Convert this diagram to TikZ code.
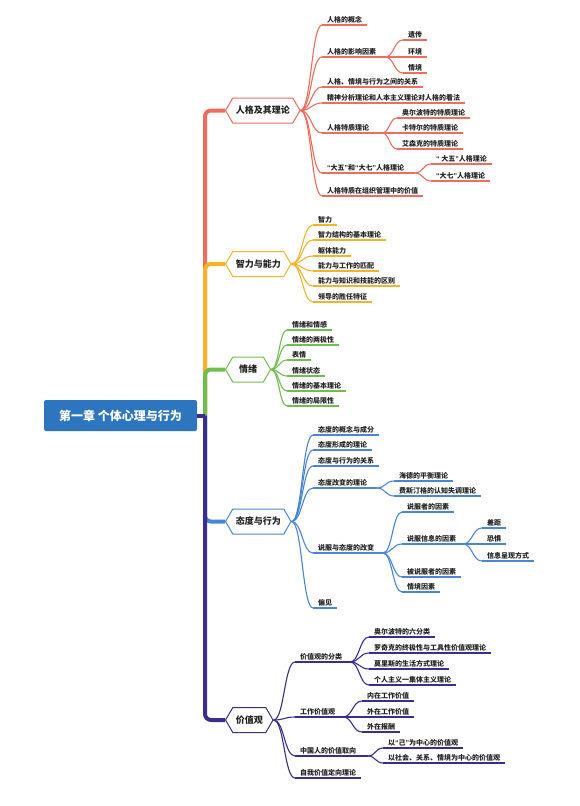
\documentclass[tikz,border=0pt]{standalone}
\usepackage{fontspec}
\newfontfamily\cjk{Noto Sans CJK SC}
\newfontfamily\latinq{Liberation Sans}
\newcommand{\oq}{{\latinq “}}
\newcommand{\cq}{{\latinq ”}}
\usetikzlibrary{calc,shapes.symbols}
\definecolor{mred}{RGB}{240,108,92}
\definecolor{morange}{RGB}{245,180,40}
\definecolor{mgreen}{RGB}{112,190,80}
\definecolor{mblue}{RGB}{74,134,216}
\definecolor{mpurple}{RGB}{58,46,140}
\definecolor{mroot}{RGB}{46,117,192}
\definecolor{mtext}{RGB}{34,34,34}
\tikzset{
  rootbox/.style={fill=mroot, rounded corners=2pt, minimum width=153pt, minimum height=31pt,
                  text=white, font=\cjk\bfseries\fontsize{12}{14}\selectfont},
  topic/.style={signal, signal to=east and west, signal pointer angle=120, draw=#1, fill=white,
                line width=1pt, minimum height=25pt, inner xsep=3pt, anchor=west,
                text=mtext, font=\cjk\bfseries\fontsize{9}{11}\selectfont},
  sub/.style={anchor=south west, inner xsep=5pt, inner ysep=1.5pt, text height=6pt, text depth=1pt,
              text=mtext, font=\cjk\bfseries\fontsize{7}{8}\selectfont},
  trunk/.style={#1, line width=4pt, rounded corners=6pt},
  link/.style={#1, line width=1.1pt, to path={let \p1=(\tikztostart), \p2=(\tikztotarget),
      \n1={0.5*(\x2-\x1)} in .. controls +(\n1,0) and +(-\n1,0) .. (\tikztotarget)}},
  uline/.style={#1, line width=1.1pt},
}

\begin{document}
\begin{tikzpicture}[x=1pt, y=-1pt]
  \useasboundingbox[fill=white] (0,0) rectangle (579,806);
  \node[rootbox] (root) at (120.5,415.5) {第一章 个体心理与行为};
  \coordinate (tr) at (205,415.5);
  \node[topic=mred] (b1) at (225,110.5) {人格及其理论};
  \node[topic=morange] (b2) at (225,264) {智力与能力};
  \node[topic=mgreen, minimum width=45pt] (b3) at (225,369.5) {情绪};
  \node[topic=mblue] (b4) at (225,521.5) {态度与行为};
  \node[topic=mpurple, minimum width=45pt] (b5) at (225,720) {价值观};
  \draw[trunk=mred] (tr) |- (b1.west);
  \draw[trunk=morange] (tr) |- (b2.west);
  \draw[trunk=mgreen] (tr) |- (b3.west);
  \draw[trunk=mblue] (tr) |- (b4.west);
  \draw[trunk=mpurple] (tr) |- (b5.west);
  \draw[trunk=mpurple] (root.east) -- (tr);

  \node[sub] (p1) at (322,25) {人格的概念};
  \node[sub] (p2) at (322,57) {人格的影响因素};
  \node[sub] (p3) at (322,87) {人格、情境与行为之间的关系};
  \node[sub] (p4) at (322,103) {精神分析理论和人本主义理论对人格的看法};
  \node[sub] (p5) at (322,133) {人格特质理论};
  \node[sub] (p6) at (322,173) {\oq 大五\cq 和\oq 大七\cq 人格理论};
  \node[sub] (p7) at (322,196) {人格特质在组织管理中的价值};
  \coordinate (p2j) at (385,57);
  \coordinate (p5j) at (382,133);
  \coordinate (p6j) at (415,173);
  \node[sub] (p21) at (403,40) {遗传};
  \node[sub] (p22) at (403,57) {环境};
  \node[sub] (p23) at (403,73) {情境};
  \node[sub] (p51) at (397,118) {奥尔波特的特质理论};
  \node[sub] (p52) at (397,133) {卡特尔的特质理论};
  \node[sub] (p53) at (397,149) {艾森克的特质理论};
  \node[sub] (p61) at (431,164) {\oq\ 大五\cq 人格理论};
  \node[sub] (p62) at (431,181) {\oq 大七\cq 人格理论};
  \foreach \k in {p1,p2,p3,p4,p5,p6,p7} \draw[link=mred] (b1.east) to (\k.south west);
  \foreach \k in {p21,p22,p23} \draw[link=mred] (p2j) to (\k.south west);
  \foreach \k in {p51,p52,p53} \draw[link=mred] (p5j) to (\k.south west);
  \foreach \k in {p61,p62} \draw[link=mred] (p6j) to (\k.south west);
  \foreach \k/\e in {p1/p1.south east, p2/p2j, p3/p3.south east, p4/p4.south east,
      p5/p5j, p6/p6j, p7/p7.south east, p21/p21.south east, p22/p22.south east,
      p23/p23.south east, p51/p51.south east, p52/p52.south east, p53/p53.south east,
      p61/p61.south east, p62/p62.south east}
    \draw[uline=mred] (\k.south west) -- (\e);

  \node[sub] (q1) at (313,225) {智力};
  \node[sub] (q2) at (313,240) {智力结构的基本理论};
  \node[sub] (q3) at (313,256) {躯体能力};
  \node[sub] (q4) at (313,271) {能力与工作的匹配};
  \node[sub] (q5) at (313,286) {能力与知识和技能的区别};
  \node[sub] (q6) at (313,302) {领导的胜任特征};
  \foreach \k in {q1,q2,q3,q4,q5,q6} {
    \draw[link=morange] (b2.east) to (\k.south west);
    \draw[uline=morange] (\k.south west) -- (\k.south east);
  }

  \node[sub] (r1) at (287,330) {情绪和情感};
  \node[sub] (r2) at (287,345) {情绪的两极性};
  \node[sub] (r3) at (287,360) {表情};
  \node[sub] (r4) at (287,376) {情绪状态};
  \node[sub] (r5) at (287,391) {情绪的基本理论};
  \node[sub] (r6) at (287,406) {情绪的局限性};
  \foreach \k in {r1,r2,r3,r4,r5,r6} {
    \draw[link=mgreen] (b3.east) to (\k.south west);
    \draw[uline=mgreen] (\k.south west) -- (\k.south east);
  }

  \node[sub] (s1) at (313,435) {态度的概念与成分};
  \node[sub] (s2) at (313,450) {态度形成的理论};
  \node[sub] (s3) at (313,466) {态度与行为的关系};
  \node[sub] (s4) at (313,488) {态度改变的理论};
  \node[sub] (s5) at (313,553) {说服与态度的改变};
  \node[sub] (s6) at (313,608) {偏见};
  \coordinate (s4j) at (377,488);
  \coordinate (s5j) at (383,553);
  \node[sub] (s41) at (394,481) {海德的平衡理论};
  \node[sub] (s42) at (394,496) {费斯汀格的认知失调理论};
  \node[sub] (s51) at (402,512) {说服者的因素};
  \node[sub] (s52) at (402,544) {说服信息的因素};
  \node[sub] (s53) at (402,577) {被说服者的因素};
  \node[sub] (s54) at (402,592) {情境因素};
  \coordinate (s52j) at (463,544);
  \node[sub] (s521) at (482,528) {差距};
  \node[sub] (s522) at (482,544) {恐惧};
  \node[sub] (s523) at (482,561) {信息呈现方式};
  \foreach \k in {s1,s2,s3,s4,s5,s6} \draw[link=mblue] (b4.east) to (\k.south west);
  \foreach \k in {s41,s42} \draw[link=mblue] (s4j) to (\k.south west);
  \foreach \k in {s51,s52,s53,s54} \draw[link=mblue] (s5j) to (\k.south west);
  \foreach \k in {s521,s522,s523} \draw[link=mblue] (s52j) to (\k.south west);
  \foreach \k/\e in {s1/s1.south east, s2/s2.south east, s3/s3.south east, s4/s4j,
      s5/s5j, s6/s6.south east, s41/s41.south east, s42/s42.south east,
      s51/s51.south east, s52/s52j, s53/s53.south east, s54/s54.south east,
      s521/s521.south east, s522/s522.south east, s523/s523.south east}
    \draw[uline=mblue] (\k.south west) -- (\e);

  \node[sub] (t1) at (295,662) {价值观的分类};
  \node[sub] (t2) at (295,717) {工作价值观};
  \node[sub] (t3) at (295,756) {中国人的价值取向};
  \node[sub] (t4) at (295,778) {自我价值定向理论};
  \coordinate (t1j) at (350,662);
  \coordinate (t2j) at (343,717);
  \coordinate (t3j) at (368,756);
  \node[sub] (t11) at (369,637) {奥尔波特的六分类};
  \node[sub] (t12) at (369,653) {罗奇克的终极性与工具性价值观理论};
  \node[sub] (t13) at (369,669) {莫里斯的生活方式理论};
  \node[sub] (t14) at (369,685) {个人主义一集体主义理论};
  \node[sub] (t21) at (362,701) {内在工作价值};
  \node[sub] (t22) at (362,717) {外在工作价值};
  \node[sub] (t23) at (362,732) {外在报酬};
  \node[sub] (t31) at (383,748) {以\oq 己\cq 为中心的价值观};
  \node[sub] (t32) at (383,763) {以社会、关系、情境为中心的价值观};
  \foreach \k in {t1,t2,t3,t4} \draw[link=mpurple] (b5.east) to (\k.south west);
  \foreach \k in {t11,t12,t13,t14} \draw[link=mpurple] (t1j) to (\k.south west);
  \foreach \k in {t21,t22,t23} \draw[link=mpurple] (t2j) to (\k.south west);
  \foreach \k in {t31,t32} \draw[link=mpurple] (t3j) to (\k.south west);
  \foreach \k/\e in {t1/t1j, t2/t2j, t3/t3j, t4/t4.south east,
      t11/t11.south east, t12/t12.south east, t13/t13.south east, t14/t14.south east,
      t21/t21.south east, t22/t22.south east, t23/t23.south east,
      t31/t31.south east, t32/t32.south east}
    \draw[uline=mpurple] (\k.south west) -- (\e);
\end{tikzpicture}
\end{document}
